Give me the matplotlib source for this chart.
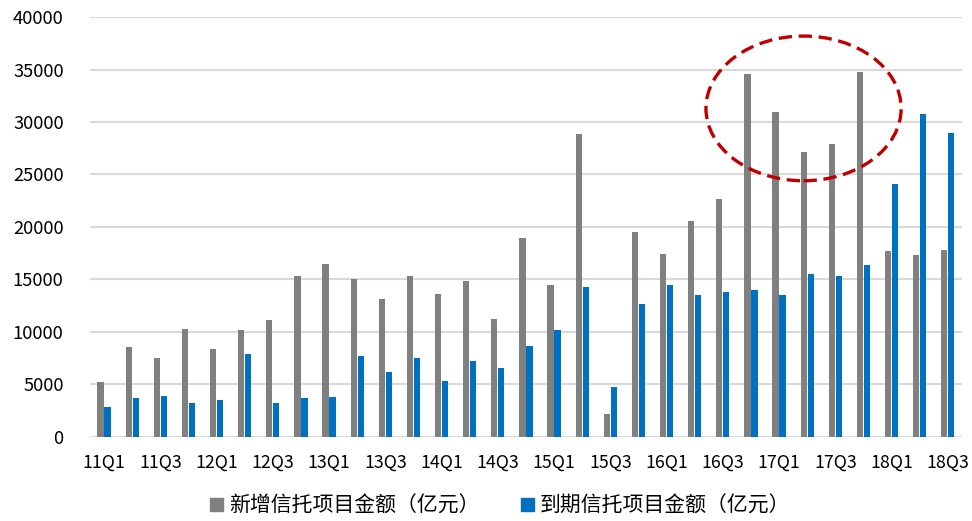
import numpy as np
import matplotlib
matplotlib.use('Agg')
import matplotlib.pyplot as plt
from matplotlib.patches import Ellipse, Patch

plt.rcParams['font.family'] = ['Noto Sans CJK SC', 'DejaVu Sans']

quarters = [f'{y}Q{q}' for y in range(11, 19) for q in range(1, 5)][:31]
new_trust = [5200, 8500, 7500, 10300, 8400, 10200, 11100, 15300,
             16500, 15000, 13100, 15300, 13600, 14800, 11200, 18900,
             14500, 28900, 2200, 19500, 17400, 20600, 22700, 34600,
             31000, 27100, 27900, 34800, 17700, 17300, 17800]
due_trust = [2800, 3700, 3900, 3200, 3500, 7900, 3200, 3700,
             3800, 7700, 6200, 7500, 5300, 7200, 6500, 8600,
             10200, 14300, 4700, 12600, 14500, 13500, 13800, 14000,
             13500, 15500, 15300, 16400, 24100, 30800, 29000]
series_names = ['新增信托项目金额（亿元）', '到期信托项目金额（亿元）']
colors = ['#808080', '#0070C0']

fig = plt.figure(figsize=(9.72, 5.21), dpi=100)
ax = fig.add_axes([0.0926, 0.162, 0.897, 0.805])

x = np.arange(len(quarters))
w = 0.22
ax.bar(x - 0.125, new_trust, width=w, color=colors[0], zorder=3)
ax.bar(x + 0.125, due_trust, width=w, color=colors[1], zorder=3)

ax.set_xlim(-0.5, len(quarters) - 0.5)
ax.set_ylim(0, 40000)
ax.set_yticks(range(0, 40001, 5000))
ax.set_yticklabels([str(v) for v in range(0, 40001, 5000)], fontsize=13.2)
ax.set_xticks(x[::2])
ax.set_xticklabels(quarters[::2], fontsize=12.8)
ax.tick_params(axis='both', length=0, colors='#000000')
ax.tick_params(axis='y', pad=19)
ax.tick_params(axis='x', pad=12)
for s in ax.spines.values():
    s.set_visible(False)
ax.grid(axis='y', color='#D9D9D9', linewidth=1.5, zorder=0)

# highlight circle
ell = Ellipse((24.87, 31300), 6.94, 13800, fill=False, edgecolor='#C00000',
              linewidth=2.4, linestyle=(0, (4, 2)), zorder=4, clip_on=False)
ax.add_patch(ell)

handles = [Patch(color=c) for c in colors]
fig.legend(handles, series_names, loc='center', bbox_to_anchor=(0.515, 0.029),
           ncol=2, frameon=False, fontsize=15, handlelength=0.6, handleheight=0.6,
           handletextpad=0.3, columnspacing=2.0)

fig.savefig('out.png', dpi=100)
